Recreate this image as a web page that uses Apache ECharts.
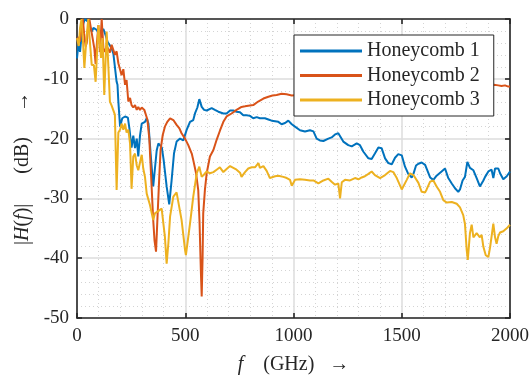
<!DOCTYPE html>
<html lang="en">
<head>
    <meta charset="UTF-8"/>
    <title>honeycomb</title>
    <script src="https://cdn.jsdelivr.net/npm/echarts@6/dist/echarts.min.js"></script>
    <style>
        html, body { margin: 0; padding: 0; background: #fff; }
    </style>
</head>
<body>

<div id="main" style="width: 531px;height:377px;"></div>

<script type="text/javascript">
    // frequency (GHz) and |H(f)| (dB)
    var names = ['Honeycomb 1', 'Honeycomb 2', 'Honeycomb 3'];

    var f1 = [0, 6, 14, 21, 29, 37, 45, 52, 60, 68, 76, 91, 99, 111, 122, 132, 141, 148, 160, 168, 175, 183, 187, 191, 199,
        209, 222, 229, 235, 242, 252, 260, 268, 276, 283, 291, 299, 306, 314, 322, 330, 340, 352, 360, 368, 376, 383,
        392, 400, 414, 426, 437, 448, 460, 468, 476, 491, 506, 522, 537, 545, 556, 565, 576, 587, 599, 607, 622, 637,
        653, 676, 691, 707, 722, 737, 753, 768, 784, 799, 814, 830, 845, 868, 884, 899, 915, 930, 945, 961, 976, 992,
        1007, 1030, 1053, 1076, 1092, 1107, 1122, 1138, 1161, 1176, 1192, 1207, 1215, 1230, 1253, 1269, 1292, 1307,
        1323, 1346, 1361, 1376, 1392, 1407, 1423, 1438, 1454, 1469, 1484, 1500, 1515, 1530, 1546, 1554, 1566, 1577,
        1592, 1608, 1631, 1646, 1661, 1684, 1700, 1715, 1731, 1746, 1761, 1769, 1781, 1792, 1803, 1815, 1831, 1846,
        1861, 1877, 1885, 1900, 1915, 1923, 1931, 1946, 1954, 1969, 1985, 2000];
    var h1 = [-6.6, -4.3, -5.5, -2.7, -0.8, 0, 0, -0.5, -0.3, -2.1, -1.5, -1.8, -2.4, -2, -1.7, -2.7, -3.8, -3.6, -4.9, -5.8,
        -5.5, -10.5, -11, -13.8, -18, -16.6, -16.3, -16.1, -16.5, -18.3, -21.5, -19.5, -21.6, -20, -23, -19.5, -17.5,
        -17.6, -17.2, -16.6, -17.5, -22.5, -28, -25, -22, -20.8, -20.5, -21.5, -23.5, -28, -31, -27, -22.5, -20.5, -20.8,
        -20, -20.3, -18.6, -17.2, -16.9, -15.8, -14.8, -13.4, -14.7, -15.2, -15.3, -15.1, -14.9, -15.2, -15.5, -15.8,
        -15.8, -15.3, -15.3, -15.5, -15.6, -16.1, -16.1, -16.2, -16.6, -16.4, -16.6, -16.6, -16.8, -17, -17.1, -17.2,
        -17.6, -17.4, -17, -17.6, -18, -18.6, -18.8, -18.6, -18.8, -20, -20.3, -20.4, -20, -19.8, -19.3, -19.1, -18.8,
        -20.5, -21.1, -21.3, -20.8, -21.1, -22.2, -23.3, -23.4, -22.5, -21.5, -21.6, -23.3, -24.1, -24.3, -23.2, -22.6,
        -22.8, -24.7, -25.9, -26.5, -25.9, -24.5, -24.2, -24, -24.4, -26.5, -26.9, -26.2, -25.5, -25, -26.6, -27.5,
        -28.3, -28.9, -28.5, -27, -26.4, -23.9, -24.9, -25.3, -26.6, -28, -27, -26.4, -25.5, -25.2, -26.6, -25, -25,
        -25.8, -26.8, -26.3, -25.5];

    var f2 = [0, 8, 14, 21, 27, 33, 40, 45, 52, 57, 64, 72, 80, 86, 92, 99, 106, 114, 122, 130, 137, 145, 152, 160, 168,
        175, 183, 191, 199, 206, 214, 222, 229, 237, 245, 252, 260, 268, 276, 283, 291, 299, 311, 319, 325, 334, 342,
        352, 358, 365, 372, 380, 386, 396, 406, 417, 430, 437, 445, 460, 473, 483, 499, 514, 530, 537, 550, 560, 566,
        572, 576, 580, 583, 591, 599, 614, 630, 645, 661, 676, 691, 714, 737, 760, 776, 791, 814, 837, 861, 884, 903,
        922, 945, 968, 992, 1020, 1100, 1200, 1300, 1400, 1500, 1600, 1700, 1800, 1900, 1926, 1935, 1946, 1961, 1977,
        1992, 2000];
    var h2 = [-3.5, -3, -3.8, -1.6, 0, -2.5, -4.6, -4, -1, 0, -1.5, -3.2, -4.9, -7.5, -4, -1, -5.5, 0, -4.9, -5.5, -4.5,
        -4.6, -5.6, -4.3, -5.2, -6, -5.4, -7.4, -7.2, -9.4, -8.4, -11, -10.2, -13.8, -13.2, -14.4, -14.8, -14.4, -15.2,
        -14.7, -15.2, -14.8, -15.2, -15.4, -16.8, -20, -26, -33.6, -37, -38.9, -33, -26.4, -21.9, -19.4, -18, -17.2,
        -16.6, -16.5, -16.9, -17.7, -18.3, -19.1, -20, -21.1, -22.5, -23.6, -25.8, -28.6, -34, -42, -46.4, -40, -32.5,
        -28.5, -25.8, -23, -21.9, -20.2, -18.6, -17.2, -16.3, -15.8, -15.2, -14.7, -14.6, -14.5, -14.4, -13.8, -13.3,
        -13, -12.8, -12.7, -12.5, -12.6, -12.8, -12.7, -12.5, -12.2, -12, -11.8, -11.6, -11.5, -11.3, -11.2, -11.1, -11,
        -11.3, -11.1, -11.2, -11.1, -11.3, -11.3];

    var f3 = [0, 8, 14, 21, 28, 34, 42, 52, 60, 68, 78, 86, 99, 111, 118, 126, 137, 145, 152, 160, 168, 175, 183, 191, 199,
        206, 214, 222, 229, 237, 245, 252, 260, 268, 276, 283, 291, 299, 306, 314, 322, 337, 352, 360, 368, 380, 391,
        406, 414, 422, 430, 445, 460, 468, 483, 499, 503, 522, 537, 553, 565, 576, 587, 599, 614, 630, 645, 660, 676,
        691, 707, 722, 737, 753, 760, 776, 791, 807, 822, 838, 845, 861, 876, 891, 899, 915, 930, 953, 969, 984, 992,
        1007, 1030, 1053, 1076, 1092, 1115, 1138, 1161, 1176, 1192, 1207, 1215, 1223, 1238, 1261, 1284, 1300, 1315,
        1330, 1346, 1361, 1376, 1400, 1423, 1446, 1461, 1477, 1500, 1523, 1538, 1554, 1577, 1592, 1608, 1615, 1631,
        1646, 1661, 1677, 1692, 1708, 1731, 1754, 1769, 1784, 1792, 1800, 1805, 1815, 1823, 1831, 1846, 1861, 1869,
        1877, 1888, 1900, 1908, 1923, 1931, 1938, 1946, 1954, 1969, 1985, 2000];
    var h3 = [-3.2, -4.5, -1.5, 0, -4, -8.2, -4, 0, -4, -7.7, -7.7, -10.5, -1, -6.5, -3.2, -12.7, -2.1, -8, -13.8, -14.5,
        -14.8, -16, -28.6, -19, -18.5, -17.5, -18.5, -17.5, -19, -18.5, -20.8, -28.4, -23, -22.5, -24.5, -25.3, -24,
        -22.7, -25, -26.4, -29.2, -31.1, -33.6, -32.5, -32.2, -32, -31.7, -36.4, -40.9, -37.5, -33, -29.7, -29, -29.3,
        -33.6, -38.6, -39.5, -34.2, -29.7, -25.8, -24.7, -26.4, -26, -25.5, -25.8, -25.6, -25.2, -24.8, -25.6, -25.1,
        -24.6, -24.9, -25.2, -25.7, -26.4, -25.6, -25, -24.8, -24.8, -24.1, -24.9, -24.6, -25.4, -26.6, -26.8, -26.3,
        -26.2, -26.4, -26.6, -26.9, -27.9, -26.9, -26.8, -26.9, -27, -27, -27.5, -27, -26.7, -27.2, -27.7, -27.5, -30,
        -27.3, -26.9, -27, -26.6, -26.8, -26.5, -26.3, -25.9, -25.5, -26.1, -26.6, -26.1, -25.4, -25.6, -26.6, -28.5,
        -26.9, -25.8, -26.1, -27.4, -28.9, -29, -28.5, -27.2, -27, -28, -28.9, -30.3, -30.7, -30.6, -30.9, -31.5, -32.8,
        -34.3, -38.6, -40.3, -35.8, -34.4, -36.5, -35.8, -36.5, -36.1, -38.1, -39.5, -39.8, -38.2, -34.2, -36.5, -37.6,
        -36.3, -35.7, -35.5, -35, -34.4];

    var colors = ['#0072BD', '#D95319', '#EDB120'];
    var serif = '"Liberation Serif", "DejaVu Serif", serif';
    var ink = '#262626';

    function pairs(fs, hs) {
        return fs.map(function (f, i) { return [f, hs[i]]; });
    }

    var myChart = echarts.init(document.getElementById('main'), null, {renderer: 'canvas'});

    var gridLines = {show: true, lineStyle: {color: '#dcdcdc', width: 1.5}};
    var minorLines = {show: true, lineStyle: {color: '#d4d4d4', width: 1, type: [1, 3]}};

    var option = {
        backgroundColor: '#fff',
        animation: false,
        grid: {left: 77, right: 21, top: 19, bottom: 59, containLabel: false, outerBoundsMode: 'none'},
        legend: {
            data: names.map(function (n) { return {name: n, icon: 'rect'}; }),
            orient: 'vertical',
            left: 294,
            top: 35,
            padding: [6, 14, 6, 6],
            itemWidth: 62,
            itemHeight: 3,
            itemGap: 4.5,
            backgroundColor: '#fff',
            borderColor: ink,
            borderWidth: 1,
            borderRadius: 0,
            textStyle: {fontFamily: serif, fontSize: 20, color: ink}
        },
        xAxis: [{
            type: 'value',
            min: 0, max: 2000, interval: 500,
            name: '{i|f}\u2003(GHz)   \u2192',
            nameLocation: 'middle',
            nameGap: 37,
            nameTextStyle: {
                fontFamily: serif, fontSize: 20, color: ink,
                rich: {i: {fontFamily: serif, fontSize: 20, fontStyle: 'italic', color: ink}}
            },
            axisLine: {show: true, onZero: false, lineStyle: {color: ink, width: 1.6}},
            axisTick: {show: true, inside: true, length: 5, lineStyle: {color: ink, width: 1.6}},
            axisLabel: {
                fontFamily: serif, fontSize: 19, color: ink, margin: 9,
                formatter: function (v) { return String(v); }
            },
            splitLine: gridLines,
            minorTick: {show: false, splitNumber: 5},
            minorSplitLine: minorLines
        }, {
            type: 'value', position: 'top',
            min: 0, max: 2000, interval: 500,
            axisLine: {show: true, onZero: false, lineStyle: {color: ink, width: 1.6}},
            axisTick: {show: true, inside: true, length: 5, lineStyle: {color: ink, width: 1.6}},
            axisLabel: {show: false},
            splitLine: {show: false}
        }],
        yAxis: [{
            type: 'value',
            min: -50, max: 0, interval: 10,
            name: '|{i|H}({i|f})|\u2003\u2002(dB)\u2003 \u2192',
            nameLocation: 'middle',
            nameGap: 44,
            nameTextStyle: {
                fontFamily: serif, fontSize: 20, color: ink,
                rich: {i: {fontFamily: serif, fontSize: 20, fontStyle: 'italic', color: ink}}
            },
            axisLine: {show: true, onZero: false, lineStyle: {color: ink, width: 1.6}},
            axisTick: {show: true, inside: true, length: 5, lineStyle: {color: ink, width: 1.6}},
            axisLabel: {
                fontFamily: serif, fontSize: 19, color: ink, margin: 8,
                formatter: function (v) { return String(v); }
            },
            splitLine: gridLines,
            minorTick: {show: false, splitNumber: 5},
            minorSplitLine: minorLines
        }, {
            type: 'value', position: 'right',
            min: -50, max: 0, interval: 10,
            axisLine: {show: true, onZero: false, lineStyle: {color: ink, width: 1.6}},
            axisTick: {show: true, inside: true, length: 5, lineStyle: {color: ink, width: 1.6}},
            axisLabel: {show: false},
            splitLine: {show: false}
        }],
        series: [
            {name: names[0], type: 'line', data: pairs(f1, h1)},
            {name: names[1], type: 'line', data: pairs(f2, h2)},
            {name: names[2], type: 'line', data: pairs(f3, h3)}
        ].map(function (s, i) {
            s.symbol = 'none';
            s.color = colors[i];
            s.lineStyle = {width: 2, color: colors[i]};
            s.clip = true;
            return s;
        })
    };

    myChart.setOption(option);
</script>
</body>
</html>
